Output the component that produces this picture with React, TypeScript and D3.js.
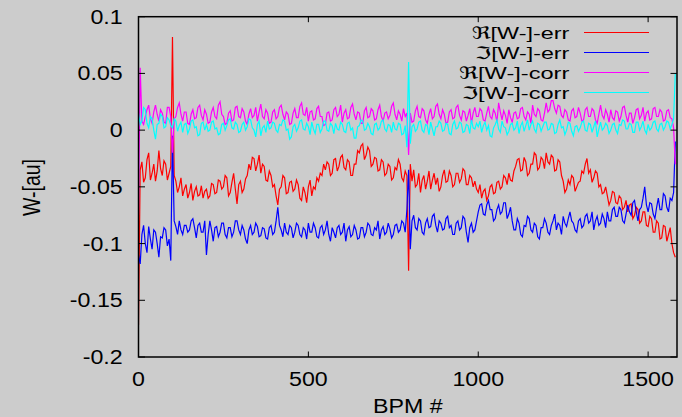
import React from "react";
import * as d3 from "d3";

// BPM index spacing of the sampled values below
const STEP = 5;
// values in units of 1e-3 [au], one every STEP BPMs
const reErr = [
  -172, -35, -28, -46, -42, -26, -20, -44, -38, -30, -45, -36, -18, -34, -40, -27, -30, -44, -38, -32,
  82, -40, -45, -55, -50, -42, -58, -52, -48, -60, -55, -47, -62, -54, -50, -58, -57, -49, -60, -54,
  -52, -60, -58, -47, -48, -56, -55, -44, -45, -52, -50, -40, -42, -58, -55, -46, -38, -52, -65, -48,
  -45, -55, -52, -43, -40, -30, -35, -24, -25, -36, -30, -22, -38, -30, -32, -44, -45, -36, -40, -50,
  -48, -58, -66, -52, -50, -40, -42, -56, -55, -46, -45, -54, -52, -44, -48, -60, -62, -50, -55, -64,
  -50, -44, -58, -50, -52, -42, -45, -38, -40, -30, -35, -28, -30, -40, -38, -26, -25, -36, -32, -24,
  -22, -33, -35, -26, -28, -40, -40, -30, -30, -18, -20, -14, -12, -26, -22, -15, -18, -32, -30, -24,
  -25, -36, -35, -26, -28, -40, -38, -30, -32, -44, -42, -33, -35, -26, -30, -42, -45, -36, -40, -124,
  -30, -45, -35, -50, -48, -38, -55, -44, -40, -52, -45, -36, -52, -44, -38, -48, -42, -54, -50, -40,
  -35, -46, -45, -36, -40, -50, -48, -38, -38, -46, -43, -34, -36, -48, -48, -40, -42, -50, -45, -52,
  -55, -48, -60, -54, -52, -62, -58, -50, -48, -56, -55, -46, -45, -52, -50, -40, -42, -48, -38, -44,
  -45, -36, -32, -26, -25, -36, -35, -24, -28, -40, -38, -30, -30, -20, -22, -35, -33, -24, -26, -34,
  -20, -28, -30, -22, -24, -36, -35, -26, -28, -40, -45, -55, -52, -44, -48, -40, -42, -54, -50, -46,
  -45, -36, -38, -30, -25, -38, -35, -46, -42, -36, -38, -50, -48, -56, -55, -50, -58, -66, -62, -54,
  -55, -64, -65, -58, -60, -70, -68, -62, -72, -66, -65, -78, -75, -68, -70, -82, -80, -72, -72, -84,
  -85, -76, -78, -90, -90, -80, -82, -96, -95, -84, -85, -98, -92, -86, -100, -108, -112,
];
const imErr = [
  -110, -118, -92, -84, -100, -108, -85, -96, -105, -88, -90, -100, -112, -94, -95, -86, -88, -102, -96, -115,
  -5, -80, -85, -92, -80, -88, -92, -84, -84, -90, -88, -80, -78, -86, -95, -84, -82, -90, -90, -80,
  -110, -92, -80, -88, -98, -86, -85, -94, -90, -82, -82, -92, -95, -86, -86, -94, -90, -80, -80, -88,
  -92, -84, -88, -96, -100, -88, -84, -92, -90, -82, -85, -94, -93, -86, -87, -95, -96, -86, -84, -92,
  -90, -80, -68, -84, -88, -94, -82, -90, -92, -84, -86, -95, -90, -82, -84, -92, -94, -86, -88, -96,
  -82, -90, -90, -82, -86, -94, -95, -86, -84, -92, -88, -80, -92, -98, -86, -90, -95, -86, -84, -92,
  -90, -82, -98, -88, -85, -94, -92, -84, -88, -96, -95, -86, -86, -94, -90, -82, -84, -92, -93, -86,
  -88, -80, -96, -88, -85, -92, -90, -82, -87, -95, -92, -84, -83, -90, -88, -80, -82, -90, -70, -35,
  -105, -80, -75, -86, -88, -78, -80, -90, -92, -82, -78, -86, -85, -76, -74, -84, -90, -80, -82, -88,
  -87, -78, -76, -86, -84, -92, -92, -82, -80, -88, -86, -76, -78, -90, -99, -86, -82, -90, -88, -80,
  -72, -66, -65, -74, -75, -66, -62, -70, -70, -80, -78, -70, -66, -74, -72, -64, -64, -78, -74, -68,
  -80, -88, -88, -78, -82, -92, -94, -84, -85, -76, -78, -88, -90, -82, -84, -94, -96, -86, -86, -78,
  -82, -90, -92, -84, -80, -74, -88, -82, -84, -92, -76, -82, -85, -78, -72, -80, -82, -88, -90, -80,
  -78, -86, -84, -76, -74, -82, -80, -72, -88, -80, -76, -84, -82, -74, -78, -86, -72, -80, -80, -70,
  -68, -76, -76, -68, -70, -80, -82, -74, -66, -72, -75, -64, -62, -72, -80, -70, -68, -60, -50, -66,
  -72, -64, -65, -74, -78, -68, -60, -70, -70, -56, -58, -68, -72, -60, -62, -55, -10,
];
const reCorr = [
  -75, 55, 8, 5, 12, 18, 22, 10, 6, 16, 22, 14, 8, 18, 15, 7, 6, 20, 20, 12,
  -20, 10, 12, 20, 24, 14, 8, 16, 16, 6, 5, 14, 18, 10, 11, 20, 22, 13, 9, 18,
  14, 6, 7, 16, 20, 12, 10, 22, 25, 14, 12, 5, 6, 15, 17, 8, 9, 20, 21, 12,
  11, 19, 16, 8, 5, 14, 19, 11, 13, 20, 8, 16, 23, 12, 10, 18, 15, 6, 7, 16,
  18, 10, 12, 20, 22, 14, 9, 16, 14, 5, 6, 15, 19, 11, 11, 21, 24, 14, 13, 20,
  8, 16, 17, 9, 10, 19, 21, 12, 12, 4, 5, 15, 16, 8, 9, 18, 20, 12, 14, 22,
  7, 15, 18, 10, 11, 20, 23, 14, 9, 16, 15, 6, 6, 17, 20, 11, 12, 19, 17, 9,
  10, 18, 22, 12, 8, 15, 16, 10, 13, 21, 24, 14, 9, 17, 14, 8, 19, 12, 15, -22,
  15, 7, 8, 17, 21, 12, 11, 19, 17, 9, 6, 14, 19, 10, 12, 21, 23, 14, 10, 18,
  14, 6, 7, 16, 18, 10, 11, 20, 22, 13, 9, 17, 16, 8, 13, 19, 6, 15, 20, 12,
  12, 19, 17, 9, 8, 15, 21, 12, 10, 18, 15, 7, 24, 16, 9, 17, 13, 6, 18, 11,
  7, 15, 16, 10, 11, 19, 20, 12, 9, 16, 14, 6, 22, 14, 12, 19, 17, 9, 8, 15,
  24, 16, 18, 26, 26, 19, 15, 22, 21, 13, 11, 18, 16, 9, 8, 17, 19, 11, 12, 20,
  15, 8, 9, 18, 20, 12, 12, 19, 17, 9, 6, 14, 22, 13, 10, 18, 14, 7, 18, 11,
  9, 17, 16, 8, 12, 20, 21, 13, 7, 15, 15, 6, 11, 18, 19, 10, 13, 20, 8, 15,
  17, 9, 10, 19, 20, 12, 12, 18, 16, 8, 9, 17, 18, 11, 10, 2, -30,
];
const imCorr = [
  15, 5, 8, 20, 18, 6, 2, 12, 10, 0, -8, 5, 6, 14, 12, 2, 3, 11, 9, 4,
  2, 10, 8, -1, 4, 7, -2, 5, 6, -3, 1, 8, 9, 2, 3, -5, -4, 6, 7, 0,
  5, -1, 0, 7, 8, 1, 2, -4, -3, 5, 6, 0, 4, 9, 10, 2, 1, 7, 5, -2,
  -1, 5, 7, 0, 3, 10, 9, 2, 0, -6, 5, 8, -5, 2, 4, -2, 8, 1, 2, 7,
  6, 0, -2, 5, 4, 9, 8, 0, 1, -8, -6, 3, 5, -1, 2, 8, 9, 1, 0, 6,
  3, -4, 7, 1, -3, 5, 5, -2, 1, 8, 8, 0, -1, 6, 4, -3, 6, 1, 0, 7,
  5, -1, -2, 6, 7, 0, 2, -7, -7, 3, 4, 9, 8, 0, 1, 6, 3, -3, -4, 5,
  6, 0, 2, 8, 9, 1, -1, 5, 4, -2, 7, 1, 0, 6, 5, -4, -3, 4, -15, 60,
  -12, 3, 5, -1, 1, 7, 8, 0, -2, 5, 4, -4, 7, 1, -5, 3, 3, 8, 6, -1,
  0, 6, 5, -3, -4, 5, 8, 1, 2, 7, 6, -2, -1, 5, 4, -3, 9, 2, 1, 6,
  3, 8, -2, 4, 7, 0, 4, -5, -6, 2, 5, 9, 1, -2, 8, 3, 2, -4, -1, 5,
  6, 0, 2, 8, -3, 4, 7, -1, 4, 9, 0, 5, 8, 1, -2, 6, 5, -1, 3, 7,
  7, 0, 1, 6, 5, -3, -2, 5, 9, 2, 3, -4, 0, 7, 6, -1, -5, 3, 4, -1,
  2, 7, 8, 0, -1, 6, 5, -2, 3, 8, -6, 1, 7, 0, 2, 6, 4, -3, 0, 5,
  6, 0, -3, 5, 4, 9, 8, 1, 1, 6, 5, -2, -2, 7, 7, 0, 3, 8, 0, -3,
  5, 0, 2, 7, 8, 1, -1, 5, 6, 0, 3, 8, 7, 1, 5, 10, 50,
];

const SERIES_LABELS = ["ℜ[W-]-err", "ℑ[W-]-err", "ℜ[W-]-corr", "ℑ[W-]-corr"];
const SERIES_COLORS = ["#ff0000", "#0000ff", "#ff00ff", "#00ffff"];
const X_TICKS = [0, 500, 1000, 1500];
const Y_TICKS = [0.1, 0.05, 0, -0.05, -0.1, -0.15, -0.2];
const Y_TICK_LABELS = ["0.1", "0.05", "0", "-0.05", "-0.1", "-0.15", "-0.2"];
const X_LABEL = "BPM #";
const Y_LABEL = "W-[au]";

const W = 682;
const H = 417;
const L = 138.5;
const R = 677;
const T = 16.7;
const B = 357;
const SX = 1.19; // horizontal stretch of the text
const FONT = "'Liberation Sans', Arial, 'DejaVu Sans', sans-serif";
const LEGEND_WIDTHS = [97.7, 94.3, 110.5, 107.6];

export default function App() {
  const x = d3.scaleLinear().domain([0, 1585]).range([L, R]);
  const y = d3.scaleLinear().domain([-0.2, 0.1]).range([B, T]);
  const series = [reErr, imErr, reCorr, imCorr];
  const line = d3
    .line<number>()
    .x((_, i) => x(i * STEP))
    .y((d) => y(d / 1000));

  return (
    <div style={{ position: "absolute", left: 0, top: 0, width: W, height: H, background: "#cccccc" }}>
      <svg width={W} height={H} style={{ display: "block" }} fontFamily={FONT}>
        <defs>
          <clipPath id="plotclip">
            <rect x={L} y={T} width={R - L} height={B - T} />
          </clipPath>
        </defs>
        <rect x={0} y={0} width={W} height={H} fill="#cccccc" />
        <g clipPath="url(#plotclip)">
          {series.map((s, k) => (
            <path key={k} d={line(s) || ""} fill="none" stroke={SERIES_COLORS[k]} strokeWidth={1.2} />
          ))}
        </g>
        {Y_TICKS.map((t, i) => (
          <g key={"yt" + i}>
            <line x1={L} x2={L + 6.5} y1={y(t)} y2={y(t)} stroke="#000" strokeWidth={1} />
            <line x1={R} x2={R - 6.5} y1={y(t)} y2={y(t)} stroke="#000" strokeWidth={1} />
            <text
              transform={`translate(122.7,${y(t) + 7}) scale(${SX},1)`}
              textAnchor="end"
              fontSize={19.5}
              fill="#000"
            >
              {Y_TICK_LABELS[i]}
            </text>
          </g>
        ))}
        {X_TICKS.map((t, i) => (
          <g key={"xt" + i}>
            <line x1={x(t)} x2={x(t)} y1={B} y2={B - 5.5} stroke="#000" strokeWidth={1} />
            <line x1={x(t)} x2={x(t)} y1={T} y2={T + 5.5} stroke="#000" strokeWidth={1} />
            <text transform={`translate(${x(t)},386) scale(${SX},1)`} textAnchor="middle" fontSize={19.5} fill="#000">
              {String(t)}
            </text>
          </g>
        ))}
        <rect x={L} y={T} width={R - L} height={B - T} fill="none" stroke="#000" strokeWidth={1.5} />
        <text transform={`translate(${(L + R) / 2},413) scale(${SX},1)`} textAnchor="middle" fontSize={19.5} fill="#000">
          {X_LABEL}
        </text>
        <text transform={`translate(39.5,187.5) scale(${SX},1) rotate(-90)`} textAnchor="middle" fontSize={19.5} fill="#000">
          {Y_LABEL}
        </text>
        {SERIES_LABELS.map((lab, k) => {
          const base = 39.3 + k * 20;
          return (
            <g key={"lg" + k}>
              <text
                x={569.3 - LEGEND_WIDTHS[k]}
                y={base}
                fontSize={17}
                textLength={LEGEND_WIDTHS[k]}
                lengthAdjust="spacingAndGlyphs"
                fill="#000"
              >
                {lab}
              </text>
              <line x1={584} x2={649} y1={base - 6.8} y2={base - 6.8} stroke={SERIES_COLORS[k]} strokeWidth={1.2} />
            </g>
          );
        })}
      </svg>
    </div>
  );
}
